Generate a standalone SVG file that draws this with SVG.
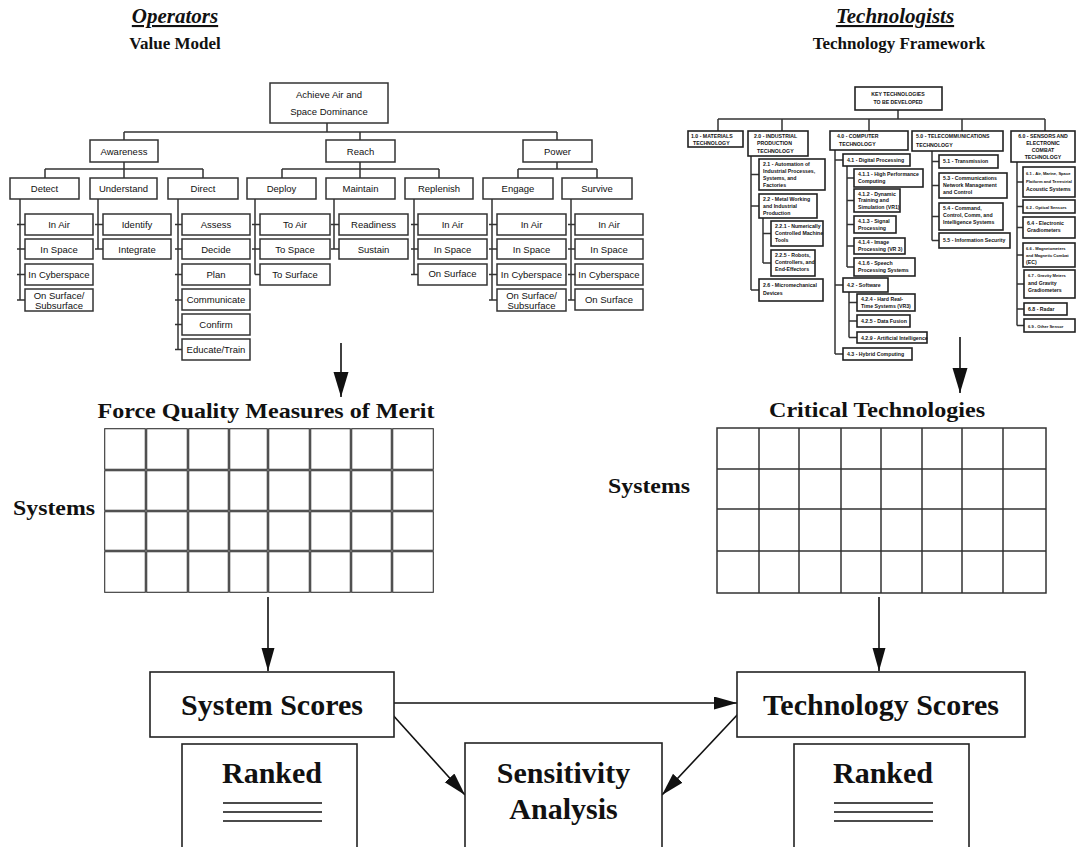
<svg xmlns="http://www.w3.org/2000/svg" width="1076" height="847" viewBox="0 0 1076 847">
<style>
.bx{fill:#fff;stroke:#333;stroke-width:1.5}
.bb{fill:#fff;stroke:#222;stroke-width:1.6}
.ln{fill:none;stroke:#333;stroke-width:1.5}
.ar{fill:none;stroke:#111;stroke-width:1.6}
.t{font-family:"Liberation Sans",Arial,sans-serif;font-size:9.5px;text-anchor:middle;fill:#111}
.s{font-family:"Liberation Sans",Arial,sans-serif;font-size:5.2px;font-weight:bold;fill:#111}
.s4{font-family:"Liberation Sans",Arial,sans-serif;font-size:4.1px;font-weight:bold;fill:#111}
.h{font-family:"Liberation Serif","Times New Roman",serif;font-weight:bold;text-anchor:middle;fill:#111}
.g1{fill:none;stroke:#333;stroke-width:1.1}
.g2{fill:none;stroke:#333;stroke-width:1.5}
</style>
<defs>
<marker id="ab" markerUnits="userSpaceOnUse" markerWidth="26" markerHeight="16" refX="25" refY="8" orient="auto"><path d="M0,0.5 L25,8 L0,15.5 z" fill="#111"/></marker>
<marker id="as" markerUnits="userSpaceOnUse" markerWidth="24" markerHeight="14" refX="23" refY="6.5" orient="auto"><path d="M0,0 L23,6.5 L0,13 z" fill="#111"/></marker>
</defs>
<rect width="1076" height="847" fill="#fff"/>

<g id="titles">
<text class="h" x="175" y="23" font-size="21" font-style="italic" text-decoration="underline">Operators</text>
<text class="h" x="175" y="49" font-size="17">Value Model</text>
<text class="h" x="895" y="23" font-size="21" font-style="italic" text-decoration="underline">Technologists</text>
<text class="h" x="899" y="49" font-size="17">Technology Framework</text>
</g>

<g id="connectors">
<path class="ln" d="M327,123V132 M124,132H557 M124,132V140 M360,132V140 M557,132V140
M124,162V169 M45,169H203 M45,169V178 M124,169V178 M203,169V178
M360,162V169 M282,169H439 M282,169V178 M360,169V178 M439,169V178
M557,162V169 M518,169H597 M518,169V178 M597,169V178
M20,199V300 M17,224.5H25 M17,249H25 M17,274.5H25 M17,300H25
M98,199V249 M95,224.5H103 M95,249H103
M178,199V349.5 M175,224.5H182 M175,249H182 M175,274.5H182 M175,300H182 M175,324.5H182 M175,349.5H182
M255,199V274.5 M252,224.5H260 M252,249H260 M255,274.5H260
M334,199V249 M331,224.5H339 M331,249H339
M414,199V274.5 M411,224.5H418 M411,249H418 M411,274.5H418
M492,199V300 M489,224.5H497 M489,249H497 M489,274.5H497 M489,300H497
M571,199V300 M568,224.5H575 M568,249H575 M568,274.5H575 M568,300H575"/>
<path class="ln" d="M898,110V119 M718,119H1045 M718,119V131 M782,119V131 M869,119V131 M962,119V131 M1045,119V131
M751,156V290 M751,174.5H759 M751,206H759 M751,290H759
M763,218V263 M763,233.5H771 M763,263H771
M835,150V354 M835,160H843 M835,285H843 M835,354H843
M847,166V267 M847,178H854 M847,200.5H854 M847,224.5H854 M847,246H854 M847,267H854
M849,292V337.5 M849,302.5H857 M849,321H857 M849,337.5H857
M932,151V240.5 M932,161.5H939 M932,185.5H939 M932,216.5H939 M932,240.5H939
M1017,162V325.5 M1017,182H1023 M1017,206.5H1023 M1017,227.5H1023 M1017,255H1023 M1017,284H1024 M1017,309H1024 M1017,325.5H1024"/>
<path class="ar" stroke-width="2" d="M341,343V397" marker-end="url(#ab)"/>
<path class="ar" stroke-width="2" d="M960,337V393" marker-end="url(#ab)"/>
<path class="ar" d="M268,597V671" marker-end="url(#as)"/>
<path class="ar" d="M879,597V671" marker-end="url(#as)"/>
<path class="ar" d="M394,703H737" marker-end="url(#as)"/>
<path class="ar" d="M391,713L465,795" marker-end="url(#as)"/>
<path class="ar" d="M739,713L662,795" marker-end="url(#as)"/>
</g>

<g id="value-model">
<g id="root-l"><rect class="bx" x="270" y="83" width="118" height="40"/><text class="t" x="329" y="98">Achieve Air and</text><text class="t" x="329" y="115">Space Dominance</text></g>
<g id="awareness"><rect class="bx" x="90" y="140" width="68" height="22"/><text class="t" x="124" y="154.5">Awareness</text></g>
<g id="reach"><rect class="bx" x="326" y="140" width="69" height="22"/><text class="t" x="360.5" y="154.5">Reach</text></g>
<g id="power"><rect class="bx" x="523" y="140" width="69" height="22"/><text class="t" x="557.5" y="154.5">Power</text></g>

<g id="detect"><rect class="bx" x="10" y="178" width="69" height="21"/><text class="t" x="44.5" y="192">Detect</text></g>
<g id="understand"><rect class="bx" x="90" y="178" width="67" height="21"/><text class="t" x="123.5" y="192">Understand</text></g>
<g id="direct"><rect class="bx" x="168" y="178" width="70" height="21"/><text class="t" x="203" y="192">Direct</text></g>
<g id="deploy"><rect class="bx" x="247" y="178" width="69" height="21"/><text class="t" x="281.5" y="192">Deploy</text></g>
<g id="maintain"><rect class="bx" x="326" y="178" width="69" height="21"/><text class="t" x="360.5" y="192">Maintain</text></g>
<g id="replenish"><rect class="bx" x="405" y="178" width="68" height="21"/><text class="t" x="439" y="192">Replenish</text></g>
<g id="engage"><rect class="bx" x="483" y="178" width="70" height="21"/><text class="t" x="518" y="192">Engage</text></g>
<g id="survive"><rect class="bx" x="562" y="178" width="70" height="21"/><text class="t" x="597" y="192">Survive</text></g>

<g id="det-air"><rect class="bx" x="25" y="214" width="68" height="21"/><text class="t" x="59" y="228">In Air</text></g>
<g id="det-space"><rect class="bx" x="25" y="239" width="68" height="20"/><text class="t" x="59" y="252.5">In Space</text></g>
<g id="det-cyber"><rect class="bx" x="25" y="264" width="68" height="21"/><text class="t" x="59" y="278">In Cyberspace</text></g>
<g id="det-surf"><rect class="bx" x="25" y="289" width="68" height="22"/><text class="t" x="59" y="298.5">On Surface/</text><text class="t" x="59" y="308.5">Subsurface</text></g>

<g id="und-identify"><rect class="bx" x="103" y="214" width="68" height="21"/><text class="t" x="137" y="228">Identify</text></g>
<g id="und-integrate"><rect class="bx" x="103" y="239" width="68" height="20"/><text class="t" x="137" y="252.5">Integrate</text></g>

<g id="dir-assess"><rect class="bx" x="182" y="214" width="68" height="21"/><text class="t" x="216" y="228">Assess</text></g>
<g id="dir-decide"><rect class="bx" x="182" y="239" width="68" height="20"/><text class="t" x="216" y="252.5">Decide</text></g>
<g id="dir-plan"><rect class="bx" x="182" y="264" width="68" height="21"/><text class="t" x="216" y="278">Plan</text></g>
<g id="dir-comm"><rect class="bx" x="182" y="289" width="68" height="21"/><text class="t" x="216" y="303">Communicate</text></g>
<g id="dir-confirm"><rect class="bx" x="182" y="314" width="68" height="21"/><text class="t" x="216" y="328">Confirm</text></g>
<g id="dir-educate"><rect class="bx" x="182" y="339" width="68" height="21"/><text class="t" x="216" y="353">Educate/Train</text></g>

<g id="dep-air"><rect class="bx" x="260" y="214" width="70" height="21"/><text class="t" x="295" y="228">To Air</text></g>
<g id="dep-space"><rect class="bx" x="260" y="239" width="70" height="20"/><text class="t" x="295" y="252.5">To Space</text></g>
<g id="dep-surf"><rect class="bx" x="260" y="264" width="70" height="21"/><text class="t" x="295" y="278">To Surface</text></g>

<g id="mai-ready"><rect class="bx" x="339" y="214" width="69" height="21"/><text class="t" x="373.5" y="228">Readiness</text></g>
<g id="mai-sustain"><rect class="bx" x="339" y="239" width="69" height="20"/><text class="t" x="373.5" y="252.5">Sustain</text></g>

<g id="rep-air"><rect class="bx" x="418" y="214" width="69" height="21"/><text class="t" x="452.5" y="228">In Air</text></g>
<g id="rep-space"><rect class="bx" x="418" y="239" width="69" height="20"/><text class="t" x="452.5" y="252.5">In Space</text></g>
<g id="rep-surf"><rect class="bx" x="418" y="264" width="69" height="21"/><text class="t" x="452.5" y="277">On Surface</text></g>

<g id="eng-air"><rect class="bx" x="497" y="214" width="69" height="21"/><text class="t" x="531.5" y="228">In Air</text></g>
<g id="eng-space"><rect class="bx" x="497" y="239" width="69" height="20"/><text class="t" x="531.5" y="252.5">In Space</text></g>
<g id="eng-cyber"><rect class="bx" x="497" y="264" width="69" height="21"/><text class="t" x="531.5" y="278">In Cyberspace</text></g>
<g id="eng-surf"><rect class="bx" x="497" y="289" width="69" height="22"/><text class="t" x="531.5" y="298.5">On Surface/</text><text class="t" x="531.5" y="308.5">Subsurface</text></g>

<g id="sur-air"><rect class="bx" x="575" y="214" width="68" height="21"/><text class="t" x="609" y="228">In Air</text></g>
<g id="sur-space"><rect class="bx" x="575" y="239" width="68" height="20"/><text class="t" x="609" y="252.5">In Space</text></g>
<g id="sur-cyber"><rect class="bx" x="575" y="264" width="68" height="21"/><text class="t" x="609" y="278">In Cyberspace</text></g>
<g id="sur-surf"><rect class="bx" x="575" y="289" width="68" height="21"/><text class="t" x="609" y="303">On Surface</text></g>
</g>

<g id="tech-framework">
<g id="key"><rect class="bb" x="855" y="87" width="87" height="23"/><text class="s" x="898" y="96" text-anchor="middle">KEY TECHNOLOGIES</text><text class="s" x="898" y="104" text-anchor="middle">TO BE DEVELOPED</text></g>
<g id="t1"><rect class="bb" x="688" y="131" width="55" height="16"/><text class="s" x="691" y="138">1.0 - MATERIALS</text><text class="s" x="693" y="144.5">TECHNOLOGY</text></g>
<g id="t2"><rect class="bb" x="748" y="131" width="60" height="25"/><text class="s" x="754" y="138">2.0 - INDUSTRIAL</text><text class="s" x="757" y="145">PRODUCTION</text><text class="s" x="757" y="152.5">TECHNOLOGY</text></g>
<g id="t4"><rect class="bb" x="830" y="131" width="78" height="19"/><text class="s" x="837" y="138">4.0 - COMPUTER</text><text class="s" x="839" y="146">TECHNOLOGY</text></g>
<g id="t5"><rect class="bb" x="912" y="131" width="91" height="20"/><text class="s" x="916" y="138">5.0 - TELECOMMUNICATIONS</text><text class="s" x="916" y="146.5">TECHNOLOGY</text></g>
<g id="t6"><rect class="bb" x="1011" y="131" width="64" height="31"/><text class="s" x="1043" y="138" text-anchor="middle">6.0 - SENSORS AND</text><text class="s" x="1043" y="145" text-anchor="middle">ELECTRONIC</text><text class="s" x="1043" y="152" text-anchor="middle">COMBAT</text><text class="s" x="1043" y="159" text-anchor="middle">TECHNOLOGY</text></g>

<g id="t21"><rect class="bb" x="759" y="159" width="66" height="31"/><text class="s" x="763" y="166">2.1 - Automation of</text><text class="s" x="763" y="173">Industrial Processes,</text><text class="s" x="763" y="180">Systems, and</text><text class="s" x="763" y="187">Factories</text></g>
<g id="t22"><rect class="bb" x="759" y="194" width="58" height="24"/><text class="s" x="763" y="200.5">2.2 - Metal Working</text><text class="s" x="763" y="207.5">and Industrial</text><text class="s" x="763" y="214.5">Production</text></g>
<g id="t221"><rect class="bb" x="771" y="221" width="52" height="25"/><text class="s" x="775" y="228">2.2.1 - Numerically</text><text class="s" x="775" y="235">Controlled Machine</text><text class="s" x="775" y="242">Tools</text></g>
<g id="t225"><rect class="bb" x="771" y="250" width="44" height="26"/><text class="s" x="775" y="257">2.2.5 - Robots,</text><text class="s" x="775" y="264">Controllers, and</text><text class="s" x="775" y="271">End-Effectors</text></g>
<g id="t26"><rect class="bb" x="759" y="279" width="64" height="22"/><text class="s" x="763" y="287">2.6 - Micromechanical</text><text class="s" x="763" y="294.5">Devices</text></g>

<g id="t41"><rect class="bb" x="843" y="154" width="67" height="12"/><text class="s" x="847" y="162">4.1 - Digital Processing</text></g>
<g id="t411"><rect class="bb" x="854" y="169" width="69" height="18"/><text class="s" x="858" y="176">4.1.1 - High Performance</text><text class="s" x="858" y="183">Computing</text></g>
<g id="t412"><rect class="bb" x="854" y="189" width="46" height="23"/><text class="s" x="858" y="195.5">4.1.2 - Dynamic</text><text class="s" x="858" y="202">Training and</text><text class="s" x="858" y="208.5">Simulation (VR1)</text></g>
<g id="t413"><rect class="bb" x="854" y="216" width="42" height="17"/><text class="s" x="858" y="222.5">4.1.3 - Signal</text><text class="s" x="858" y="229.5">Processing</text></g>
<g id="t414"><rect class="bb" x="854" y="238" width="51" height="16"/><text class="s" x="858" y="244">4.1.4 - Image</text><text class="s" x="858" y="251">Processing (VR 3)</text></g>
<g id="t416"><rect class="bb" x="854" y="258" width="61" height="18"/><text class="s" x="858" y="264.5">4.1.6 - Speech</text><text class="s" x="858" y="271.5">Processing Systems</text></g>
<g id="t42"><rect class="bb" x="843" y="278" width="45" height="14"/><text class="s" x="847" y="287">4.2 - Software</text></g>
<g id="t424"><rect class="bb" x="857" y="294" width="58" height="17"/><text class="s" x="861" y="300.5">4.2.4 - Hard Real-</text><text class="s" x="861" y="307.5">Time Systems (VR3)</text></g>
<g id="t425"><rect class="bb" x="857" y="315" width="53" height="12"/><text class="s" x="861" y="323">4.2.5 - Data Fusion</text></g>
<g id="t429"><rect class="bb" x="857" y="332" width="70" height="11"/><text class="s" x="861" y="339.5">4.2.9 - Artificial Intelligence</text></g>
<g id="t43"><rect class="bb" x="843" y="348" width="69" height="12"/><text class="s" x="847" y="356">4.3 - Hybrid Computing</text></g>

<g id="t51"><rect class="bb" x="939" y="155" width="59" height="13"/><text class="s" x="943" y="163">5.1 - Transmission</text></g>
<g id="t53"><rect class="bb" x="939" y="173" width="68" height="25"/><text class="s" x="943" y="180">5.3 - Communications</text><text class="s" x="943" y="187">Network Management</text><text class="s" x="943" y="194">and Control</text></g>
<g id="t54"><rect class="bb" x="939" y="203" width="64" height="27"/><text class="s" x="943" y="210">5.4 - Command,</text><text class="s" x="943" y="217">Control, Comm, and</text><text class="s" x="943" y="224">Intelligence Systems</text></g>
<g id="t55"><rect class="bb" x="939" y="233" width="71" height="15"/><text class="s" x="943" y="242">5.5 - Information Security</text></g>

<g id="t61"><rect class="bb" x="1023" y="167" width="52" height="30"/><text class="s4" x="1026" y="175">6.1 - Air, Marine, Space</text><text class="s4" x="1026" y="183">Platform and Terrestrial</text><text class="s" x="1026" y="191">Acoustic Systems</text></g>
<g id="t62"><rect class="bb" x="1023" y="200" width="52" height="13"/><text class="s4" x="1026" y="208.5">6.2 - Optical Sensors</text></g>
<g id="t64"><rect class="bb" x="1023" y="217" width="52" height="21"/><text class="s" x="1027" y="224.5">6.4 - Electronic</text><text class="s" x="1027" y="232">Gradiometers</text></g>
<g id="t66"><rect class="bb" x="1023" y="243" width="52" height="24"/><text class="s4" x="1026" y="249.5">6.6 - Magnetometers</text><text class="s4" x="1026" y="256.5">and Magnetic Combat</text><text class="s" x="1026" y="263.5">(EC)</text></g>
<g id="t67"><rect class="bb" x="1024" y="270" width="51" height="28"/><text class="s4" x="1028" y="277">6.7 - Gravity Meters</text><text class="s" x="1028" y="284.5">and Gravity</text><text class="s" x="1028" y="292">Gradiometers</text></g>
<g id="t68"><rect class="bb" x="1024" y="303" width="43" height="12"/><text class="s" x="1028" y="311">6.8 - Radar</text></g>
<g id="t69"><rect class="bb" x="1024" y="319" width="51" height="13"/><text class="s4" x="1028" y="327.5">6.9 - Other Sensor</text></g>
</g>

<g id="fqmm">
<text class="h" x="266" y="418" font-size="22" textLength="337" lengthAdjust="spacingAndGlyphs">Force Quality Measures of Merit</text>
<text class="h" x="54" y="515" font-size="22" textLength="82" lengthAdjust="spacingAndGlyphs">Systems</text>
<g class="g1">
<rect x="104.7" y="428.7" width="40.6" height="40.6"/><rect x="146.7" y="428.7" width="40.6" height="40.6"/><rect x="188.7" y="428.7" width="39.6" height="40.6"/><rect x="229.7" y="428.7" width="37.6" height="40.6"/><rect x="268.7" y="428.7" width="40.6" height="40.6"/><rect x="310.7" y="428.7" width="39.6" height="40.6"/><rect x="351.7" y="428.7" width="39.6" height="40.6"/><rect x="392.7" y="428.7" width="40.6" height="40.6"/>
<rect x="104.7" y="470.7" width="40.6" height="39.6"/><rect x="146.7" y="470.7" width="40.6" height="39.6"/><rect x="188.7" y="470.7" width="39.6" height="39.6"/><rect x="229.7" y="470.7" width="37.6" height="39.6"/><rect x="268.7" y="470.7" width="40.6" height="39.6"/><rect x="310.7" y="470.7" width="39.6" height="39.6"/><rect x="351.7" y="470.7" width="39.6" height="39.6"/><rect x="392.7" y="470.7" width="40.6" height="39.6"/>
<rect x="104.7" y="511.7" width="40.6" height="38.6"/><rect x="146.7" y="511.7" width="40.6" height="38.6"/><rect x="188.7" y="511.7" width="39.6" height="38.6"/><rect x="229.7" y="511.7" width="37.6" height="38.6"/><rect x="268.7" y="511.7" width="40.6" height="38.6"/><rect x="310.7" y="511.7" width="39.6" height="38.6"/><rect x="351.7" y="511.7" width="39.6" height="38.6"/><rect x="392.7" y="511.7" width="40.6" height="38.6"/>
<rect x="104.7" y="551.7" width="40.6" height="40.6"/><rect x="146.7" y="551.7" width="40.6" height="40.6"/><rect x="188.7" y="551.7" width="39.6" height="40.6"/><rect x="229.7" y="551.7" width="37.6" height="40.6"/><rect x="268.7" y="551.7" width="40.6" height="40.6"/><rect x="310.7" y="551.7" width="39.6" height="40.6"/><rect x="351.7" y="551.7" width="39.6" height="40.6"/><rect x="392.7" y="551.7" width="40.6" height="40.6"/>
</g>
</g>

<g id="critical">
<text class="h" x="877" y="417" font-size="22" textLength="216" lengthAdjust="spacingAndGlyphs">Critical Technologies</text>
<text class="h" x="649" y="493" font-size="22" textLength="82" lengthAdjust="spacingAndGlyphs">Systems</text>
<rect class="g2" x="717" y="428" width="329" height="165"/>
<path class="g2" d="M759,428V593 M799,428V593 M841,428V593 M881,428V593 M922,428V593 M962,428V593 M1003,428V593 M717,469H1046 M717,509H1046 M717,551H1046"/>
</g>

<g id="system-scores"><rect class="bb" x="150" y="672" width="244" height="65"/><text class="h" x="272" y="715" font-size="30">System Scores</text></g>
<g id="tech-scores"><rect class="bb" x="737" y="672" width="288" height="65"/><text class="h" x="881" y="715" font-size="30">Technology Scores</text></g>
<g id="sensitivity"><rect class="bb" x="465" y="743" width="197" height="110"/><text class="h" x="563.5" y="783" font-size="30">Sensitivity</text><text class="h" x="563.5" y="819" font-size="30">Analysis</text></g>
<g id="ranked-l"><rect class="bb" x="182" y="744" width="175" height="110"/><text class="h" x="272" y="783" font-size="30">Ranked</text><path class="ar" stroke-width="1.4" d="M223,803H322 M223,812H322 M223,821H322"/></g>
<g id="ranked-r"><rect class="bb" x="794" y="744" width="175" height="110"/><text class="h" x="883" y="783" font-size="30">Ranked</text><path class="ar" stroke-width="1.4" d="M834,803H933 M834,812H933 M834,821H933"/></g>
</svg>
